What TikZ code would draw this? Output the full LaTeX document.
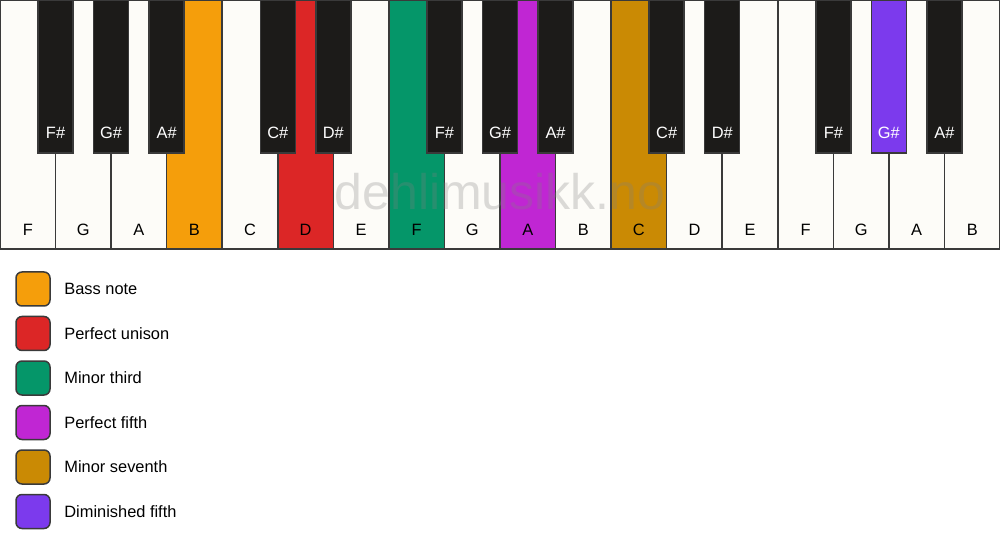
\documentclass[tikz,border=0pt]{standalone}
\usepackage{fontspec}
\setmainfont{Liberation Sans}
\usepackage{tikz}

\definecolor{keywhite}{HTML}{FDFCF8}
\definecolor{keyblack}{HTML}{1C1B19}
\definecolor{keyedge}{HTML}{3A3A3A}
\definecolor{bassnote}{HTML}{F59E0B}
\definecolor{unison}{HTML}{DC2626}
\definecolor{minthird}{HTML}{059669}
\definecolor{perffifth}{HTML}{C026D3}
\definecolor{minseventh}{HTML}{CA8A04}
\definecolor{dimfifth}{HTML}{7C3AED}

\tikzset{
  whitekey/.style={draw=keyedge, line width=0.75pt},
  blackkey/.style={draw=keyedge, line width=0.75pt},
  whitelabel/.style={font=\fontsize{8.2}{10}\selectfont, text=black},
  blacklabel/.style={font=\fontsize{8.2}{10}\selectfont, text=white},
  legendbox/.style={draw=keyedge, line width=0.75pt, rounded corners=3pt},
  legendtext/.style={anchor=west, font=\fontsize{8.2}{10}\selectfont, inner sep=0pt}
}

\begin{document}
\begin{tikzpicture}[x=0.5pt, y=-0.5pt]
\useasboundingbox[fill=white] (0,0) rectangle (1000,550);
% white keys
\foreach \n/\c [count=\i from 0] in {F/keywhite, G/keywhite, A/keywhite, B/bassnote, C/keywhite, D/unison, E/keywhite, F/minthird, G/keywhite, A/perffifth, B/keywhite, C/minseventh, D/keywhite, E/keywhite, F/keywhite, G/keywhite, A/keywhite, B/keywhite}
{
  \draw[whitekey, fill=\c] (\i*55.556,0) rectangle ++(55.556,249);
  \node[whitelabel] (w\i) at (\i*55.556+27.778,230) {\n};
}
% watermark
\node[font=\fontsize{25}{30}\selectfont, text=gray, text opacity=0.28] (mark) at (500,192) {dehlimusikk.no};
% black keys
\foreach \b/\n/\c in {1/F/keyblack, 2/G/keyblack, 3/A/keyblack, 5/C/keyblack, 6/D/keyblack, 8/F/keyblack, 9/G/keyblack, 10/A/keyblack, 12/C/keyblack, 13/D/keyblack, 15/F/keyblack, 16/G/dimfifth, 17/A/keyblack}
{
  \draw[blackkey, fill=\c] (\b*55.556-17.5,0) rectangle ++(35,153);
  \node[blacklabel] (b\b) at (\b*55.556,133) {\n\#};
}
% legend
\foreach \c/\t [count=\k from 0] in {bassnote/Bass note, unison/Perfect unison, minthird/Minor third, perffifth/Perfect fifth, minseventh/Minor seventh, dimfifth/Diminished fifth}
{
  \draw[legendbox, fill=\c] (16,272+\k*44.5) rectangle ++(34,34);
  \node[legendtext] (l\k) at (64,289+\k*44.5) {\t};
}
\end{tikzpicture}
\end{document}
